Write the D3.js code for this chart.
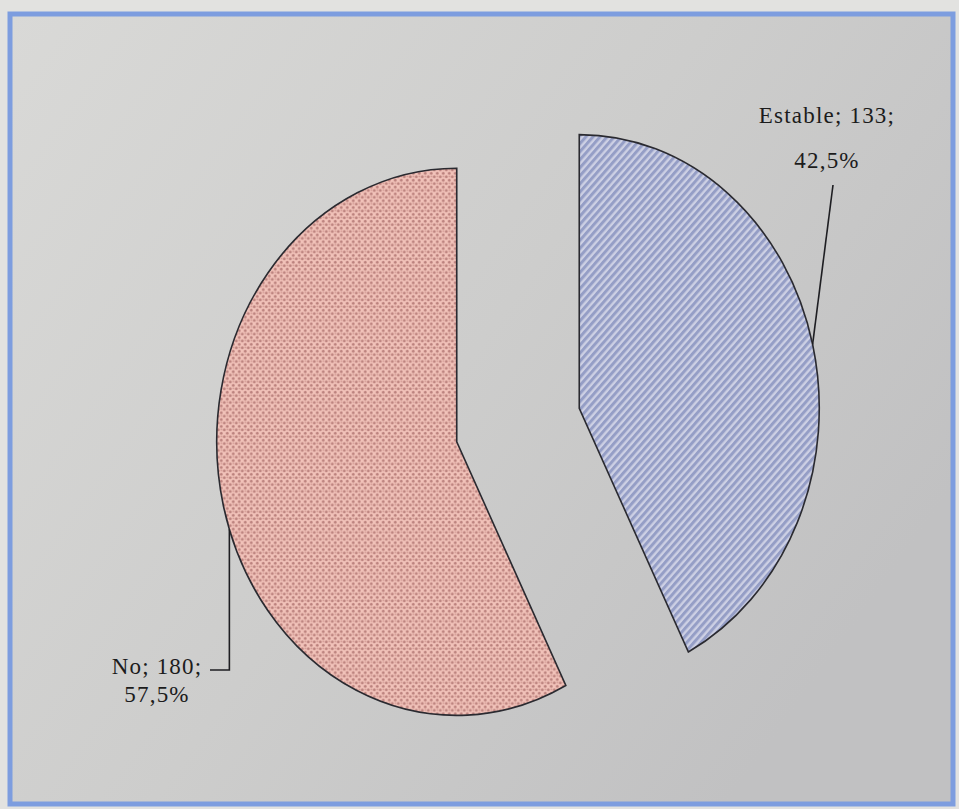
<!DOCTYPE html>
<html>
<head>
<meta charset="utf-8">
<script src="https://cdn.jsdelivr.net/npm/d3@7/dist/d3.min.js"></script>
<style>
  html, body { margin: 0; padding: 0; background: #e2e2e0; }
  svg { display: block; }
</style>
</head>
<body>
<svg id="chart" width="959" height="809"></svg>
<script>
// Data
const categories = ["No", "Estable"];
const values = [180, 133];
const percentLabels = ["57,5%", "42,5%"];

const W = 959, H = 809;
const svg = d3.select("#chart");
const defs = svg.append("defs");

// Plot-area background gradient
const bg = defs.append("linearGradient").attr("id", "bgGrad")
  .attr("x1", "0%").attr("y1", "0%").attr("x2", "100%").attr("y2", "60%");
bg.append("stop").attr("offset", "0%").attr("stop-color", "#d9d9d7");
bg.append("stop").attr("offset", "55%").attr("stop-color", "#cdcdcc");
bg.append("stop").attr("offset", "100%").attr("stop-color", "#c1c1c2");

// Diagonal stripe fill for "Estable"
const stripe = defs.append("pattern").attr("id", "stripes")
  .attr("patternUnits", "userSpaceOnUse").attr("width", 5).attr("height", 5)
  .attr("patternTransform", "rotate(45)");
stripe.append("rect").attr("width", 5).attr("height", 5).attr("fill", "#cdd0e4");
stripe.append("rect").attr("width", 2.8).attr("height", 5).attr("fill", "#959ec6");

// Wavy dotted fill for "No"
const dots = defs.append("pattern").attr("id", "dots")
  .attr("patternUnits", "userSpaceOnUse").attr("width", 6).attr("height", 6);
dots.append("rect").attr("width", 6).attr("height", 6).attr("fill", "#f1c2b9");
dots.append("circle").attr("cx", 1.5).attr("cy", 1.5).attr("r", 1.3).attr("fill", "#b97f7b");
dots.append("circle").attr("cx", 4.5).attr("cy", 4.5).attr("r", 1.3).attr("fill", "#b97f7b");
dots.append("circle").attr("cx", 4.5).attr("cy", 1.2).attr("r", 0.8).attr("fill", "#d09690");

// Chart frame
svg.append("rect").attr("x", 10).attr("y", 14).attr("width", 943).attr("height", 790)
  .attr("fill", "url(#bgGrad)").attr("stroke", "#7d9ddf").attr("stroke-width", 5);

// Pie geometry (slightly taller than wide)
const cx = 518, cy = 425, r = 240, ky = 1.14, explode = 63;

const pie = d3.pie().sort(null).value(d => d.value);
const data = categories.map((c, i) => ({ name: c, value: values[i], pct: percentLabels[i] }));
// "Estable" starts at 12 o'clock, "No" follows clockwise
const arcs = pie(data.slice().reverse());
const arc = d3.arc().innerRadius(0).outerRadius(r);

const fills = { "Estable": "url(#stripes)", "No": "url(#dots)" };

arcs.forEach(a => {
  const mid = (a.startAngle + a.endAngle) / 2;
  const ox = cx + explode * Math.sin(mid);
  const oy = cy - explode * Math.cos(mid) * ky;
  a.ox = ox; a.oy = oy; a.mid = mid;
  svg.append("path")
    .attr("d", arc(a))
    .attr("transform", `translate(${ox},${oy}) scale(1,${ky})`)
    .attr("fill", fills[a.data.name])
    .attr("stroke", "#2a2a30")
    .attr("stroke-width", 1.6)
    .attr("vector-effect", "non-scaling-stroke");
});

// Data labels with leader lines
const font = "'Liberation Serif', 'DejaVu Serif', serif";
const labelSpec = {
  "Estable": { start: 0, endY: 185, endX: 833, elbowX: null, tx: 827, ty: [123, 168] },
  "No": { start: 0.09, endY: 670, endX: null, elbowX: 210, tx: 157, ty: [674, 702] }
};

arcs.forEach(a => {
  const s = labelSpec[a.data.name];
  const ang = a.mid - s.start;
  const px = a.ox + r * Math.sin(ang);
  const py = a.oy - r * Math.cos(ang) * ky;
  const ex = s.endX == null ? px : s.endX;
  const pts = [[px, py], [ex, s.endY]];
  if (s.elbowX != null) pts.push([s.elbowX, s.endY]);
  svg.append("path")
    .attr("d", d3.line()(pts))
    .attr("fill", "none").attr("stroke", "#1e1e22").attr("stroke-width", 1.6);

  const lines = [`${a.data.name}; ${a.data.value};`, a.data.pct];
  lines.forEach((txt, k) => {
    svg.append("text")
      .attr("x", s.tx).attr("y", s.ty[k])
      .attr("font-family", font).attr("font-size", 23).attr("fill", "#1c1c1c")
      .attr("text-anchor", "middle").attr("letter-spacing", 1.2)
      .text(txt);
  });
});
</script>
</body>
</html>
